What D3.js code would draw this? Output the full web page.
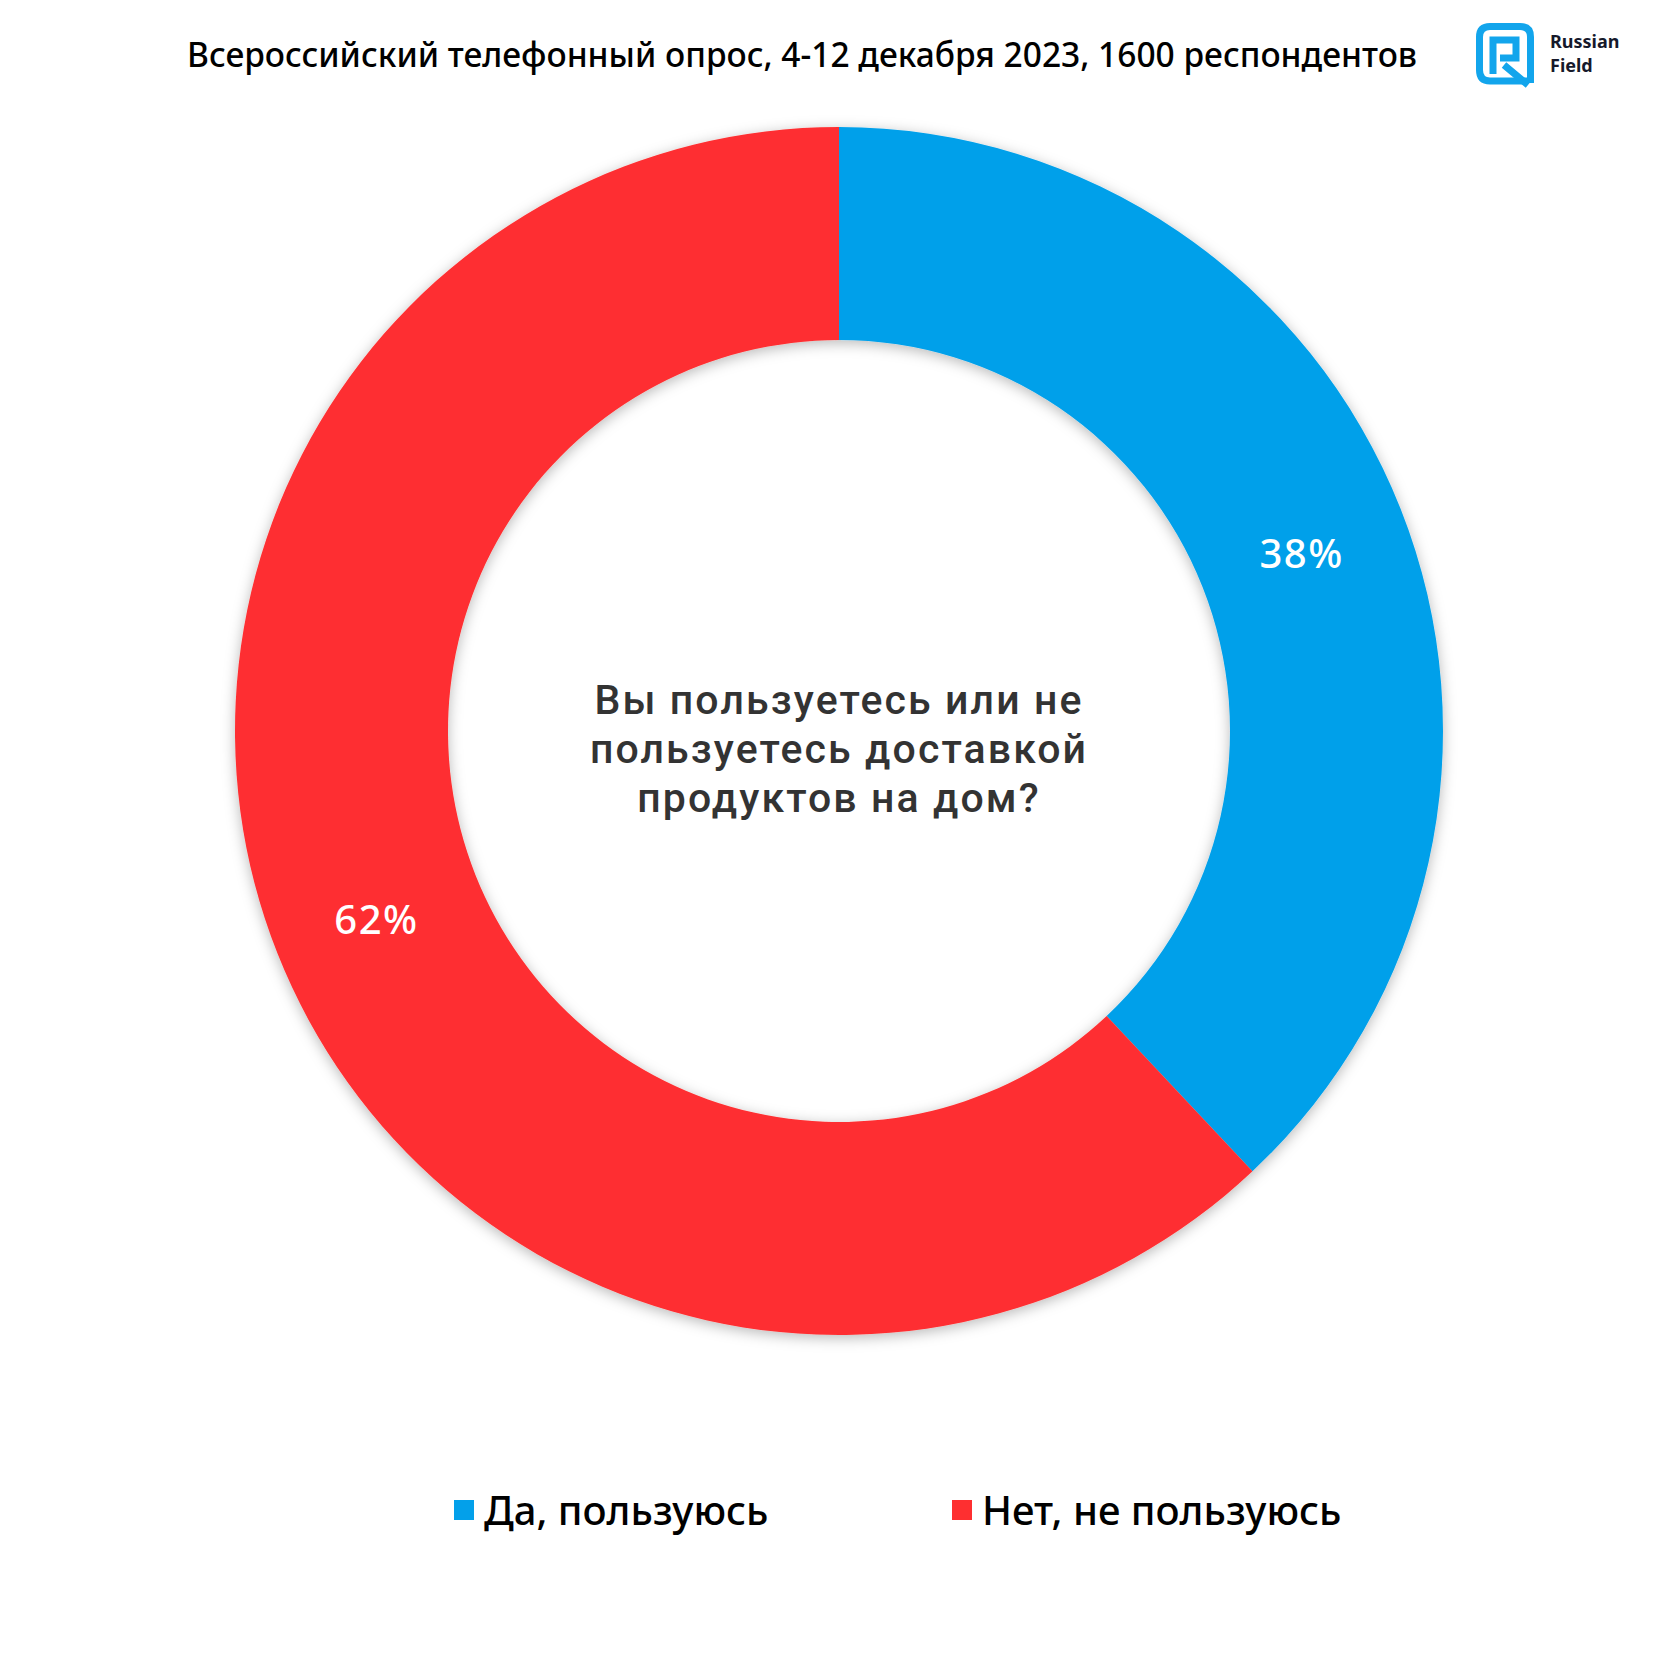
<!DOCTYPE html>
<html><head><meta charset="utf-8">
<script src="https://cdn.jsdelivr.net/npm/d3@7"></script>
<style>body{margin:0;background:#fff}svg{display:block}</style>
</head><body>
<script>
const categories = ["Да, пользуюсь", "Нет, не пользуюсь"];
const values = [38, 62];
const colors = ["#03A0EA", "#FE2F30"];
const title = "Всероссийский телефонный опрос, 4-12 декабря 2023, 1600 респондентов";
const question = ["Вы пользуетесь или не", "пользуетесь доставкой", "продуктов на дом?"];

const W = 1680, H = 1680;
const cx = 839, cy = 731, rOuter = 604, rInner = 391;
const font = "'Noto Sans', 'Open Sans', sans-serif";

const svg = d3.select("body").append("svg").attr("width", W).attr("height", H);
const defs = svg.append("defs");
const f = defs.append("filter").attr("id","sh").attr("x","-20%").attr("y","-20%").attr("width","140%").attr("height","140%");
f.append("feDropShadow").attr("dx",0).attr("dy",3).attr("stdDeviation",7).attr("flood-color","#000").attr("flood-opacity",0.28);

// title
svg.append("text").attr("x", 802).attr("y", 67).attr("text-anchor","middle")
  .attr("font-family", font).attr("font-size", 33.5).attr("font-weight", 500).attr("fill","#000")
  .text(title);

// logo
const lg = svg.append("g").attr("transform","translate(1476,23)");
lg.append("path").attr("d","M52,58 L14,58 Q3.5,58 3.5,47 L3.5,14 Q3.5,3.5 14,3.5 L44,3.5 Q54.5,3.5 54.5,14 L54.5,60")
  .attr("fill","none").attr("stroke","#12A5EC").attr("stroke-width",7);
lg.append("path").attr("d","M17,51 L17,17 L40,17 L40,35 L24,35 M28,42 L52,62")
  .attr("fill","none").attr("stroke","#12A5EC").attr("stroke-width",7).attr("stroke-linejoin","miter");
svg.append("text").attr("x",1550).attr("y",48).attr("font-family",font).attr("font-size",18).attr("font-weight",700).attr("fill","#16192b").text("Russian");
svg.append("text").attr("x",1550).attr("y",72).attr("font-family",font).attr("font-size",18).attr("font-weight",700).attr("fill","#16192b").text("Field");

// donut
const pie = d3.pie().sort(null).value(d => d)(values);
const arc = d3.arc().innerRadius(rInner).outerRadius(rOuter);
const g = svg.append("g").attr("transform", `translate(${cx},${cy})`);
g.append("g").attr("filter","url(#sh)").selectAll("path").data(pie).join("path")
  .attr("d", arc).attr("fill", (d,i) => colors[i]);
g.selectAll("text.lbl").data(pie).join("text").attr("class","lbl")
  .attr("transform", d => `translate(${arc.centroid(d)})`)
  .attr("text-anchor","middle").attr("dy","0.5em")
  .attr("font-family", font).attr("font-size", 40).attr("font-weight", 500)
  .attr("letter-spacing", 1.5).attr("fill","#fff")
  .text(d => d.data + "%");

// center question (one text block, three lines)
const qt = g.append("text").attr("text-anchor","middle").attr("font-family", "Roboto, 'Noto Sans', sans-serif")
  .attr("font-size", 41).attr("font-weight", 500).attr("letter-spacing", 2.1).attr("fill","#333");
qt.selectAll("tspan").data(question).join("tspan")
  .attr("x", 0).attr("y", (d,i) => -17 + i*49).text(d => d);

// legend
const legendX = [454, 952];
const lgd = svg.append("g");
categories.forEach((c,i) => {
  lgd.append("rect").attr("x", legendX[i]).attr("y", 1500).attr("width", 20).attr("height", 20).attr("fill", colors[i]);
  lgd.append("text").attr("x", legendX[i] + 30).attr("y", 1525).attr("font-family", font)
    .attr("font-size", 40).attr("font-weight", 500).attr("fill","#000").text(c);
});
</script>
</body></html>
